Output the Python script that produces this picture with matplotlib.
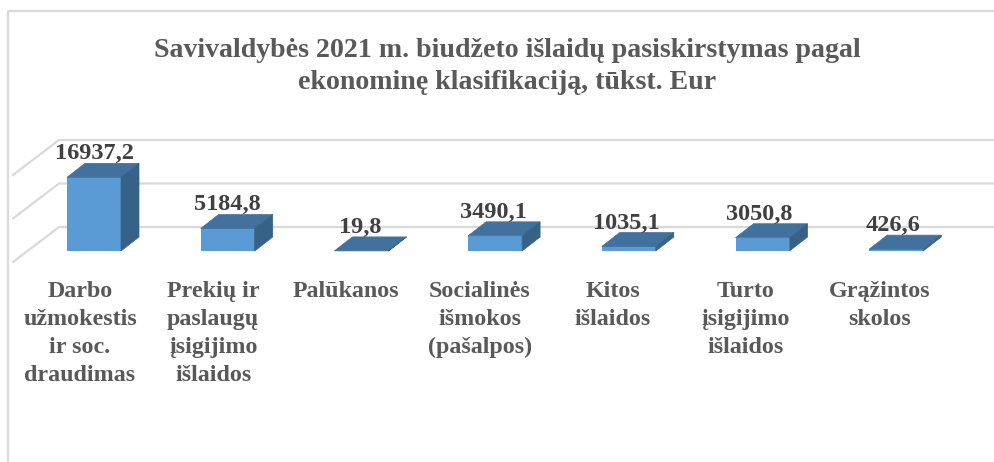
import matplotlib
matplotlib.use('Agg')
import matplotlib.pyplot as plt
from matplotlib.patches import Polygon

kategorijos = ['Darbo\nužmokestis\nir soc.\ndraudimas', 'Prekių ir\npaslaugų\nįsigijimo\nišlaidos', 'Palūkanos',
               'Socialinės\nišmokos\n(pašalpos)', 'Kitos\nišlaidos', 'Turto\nįsigijimo\nišlaidos', 'Grąžintos\nskolos']
reiksmes = [16937.2, 5184.8, 19.8, 3490.1, 1035.1, 3050.8, 426.6]
etiketes = ['16937,2', '5184,8', '19,8', '3490,1', '1035,1', '3050,8', '426,6']
tinklelis = [0, 10000, 20000]
pavadinimas = 'Savivaldybės 2021 m. biudžeto išlaidų pasiskirstymas pagal\nekonominę klasifikaciją, tūkst. Eur'

# pikselio mastelis
W, H = 995, 462
x0, dx = 94.0, 133.7
y0, dy = 251.0, 0.00435
bar_w = 54 / dx
gyl_x, gyl_y = 18 / dx, 14 / dy

plt.rcParams['font.family'] = ['Liberation Serif', 'DejaVu Serif']
fig = plt.figure(figsize=(W / 100, H / 100), dpi=100)
ax = fig.add_axes([0, 0, 1, 1])
ax.set_xlim(-x0 / dx, (W - x0) / dx)
ax.set_ylim((y0 - H) / dy, y0 / dy)
ax.axis('off')

# remelis
remelis = '#d9d9d9'
fig.add_artist(plt.Line2D([1, 8 / W, 8 / W], [1 - 11 / H, 1 - 11 / H, 0], color=remelis, lw=1.6))

# sienos tinklelis
for t in tinklelis:
    ax.plot([(13 - x0) / dx, (59 - x0) / dx, (993 - x0) / dx],
            [t - 11 / dy, t + 24 / dy, t + 24 / dy], color=remelis, lw=1.6, zorder=1)

bars = ax.bar(range(len(reiksmes)), reiksmes, width=bar_w, color='#5b9bd5', zorder=3)
for i, (b, v) in enumerate(zip(bars, reiksmes)):
    l, r = b.get_x(), b.get_x() + b.get_width()
    ax.add_patch(Polygon([(l, v), (r, v), (r + gyl_x, v + gyl_y), (l + gyl_x, v + gyl_y)], color='#41719c', lw=0.5, zorder=3))
    ax.add_patch(Polygon([(r, 0), (r, v), (r + gyl_x, v + gyl_y), (r + gyl_x, gyl_y)], color='#376287', lw=0.5, zorder=3))
    ax.annotate(etiketes[i], (i, v + gyl_y), xytext=(-0.6 * i, -1), textcoords='offset pixels', ha='center', va='bottom',
                fontsize=17.5, fontweight='bold', color='#404040', zorder=4)
    ax.annotate(kategorijos[i], (i, 0), xytext=(-14 - 0.5 * i, -30), textcoords='offset pixels', ha='center', va='top',
                fontsize=17.3, fontweight='bold', color='#595959', linespacing=1.44)

fig.text(507.5 / W, 1 - 66.5 / H, pavadinimas, ha='center', va='center', fontsize=20.1, fontweight='bold',
         color='#595959', linespacing=1.38)

fig.savefig('out.png', dpi=100)
